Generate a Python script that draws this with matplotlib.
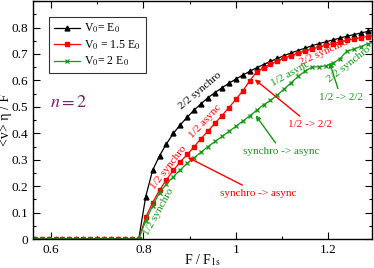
import numpy as np
import matplotlib
matplotlib.use("Agg")
import matplotlib.pyplot as plt
from matplotlib.ticker import MultipleLocator, FixedLocator, FixedFormatter

plt.rcParams['font.family'] = ['Liberation Serif', 'DejaVu Serif']
plt.rcParams['mathtext.fontset'] = 'stix'

# F / F1s sampling grid (0.565 ... 1.300, step 0.015)
F = np.round(0.565 + 0.015 * np.arange(50), 3)
n_zero = 16  # points before the depinning threshold

zeros = [0.0] * n_zero
v_e0 = zeros + [0.160, 0.260, 0.315, 0.360, 0.400, 0.432, 0.461, 0.488, 0.512, 0.535,
                0.554, 0.572, 0.589, 0.605, 0.620, 0.634, 0.648, 0.660, 0.672, 0.683,
                0.694, 0.704, 0.713, 0.722, 0.731, 0.739, 0.746, 0.753, 0.760, 0.767,
                0.773, 0.779, 0.785, 0.790]
v_15e0 = zeros + [0.082, 0.138, 0.185, 0.225, 0.260, 0.292, 0.320, 0.350, 0.380, 0.409,
                  0.438, 0.467, 0.497, 0.528, 0.560, 0.598, 0.632, 0.648, 0.661, 0.673,
                  0.684, 0.694, 0.703, 0.711, 0.719, 0.726, 0.733, 0.739, 0.745, 0.751,
                  0.756, 0.761, 0.766, 0.770]
v_2e0 = zeros + [0.069, 0.125, 0.176, 0.208, 0.236, 0.262, 0.287, 0.308, 0.329, 0.350,
                 0.369, 0.388, 0.407, 0.426, 0.446, 0.466, 0.487, 0.508, 0.524, 0.545,
                 0.568, 0.592, 0.615, 0.636, 0.650, 0.652, 0.655, 0.665, 0.682, 0.710,
                 0.718, 0.728, 0.738, 0.745]

black = 'black'
red = '#ff0000'
green = '#129a12'

fig = plt.figure(figsize=(3.74, 2.68), dpi=100)
ax = fig.add_axes([0.088, 0.108, 0.907, 0.888])

ax.plot(F, v_e0, color=black, lw=0.9, marker='^', ms=3.5, label='V$_0$= E$_0$')
ax.plot(F, v_15e0, color=red, lw=0.9, marker='s', ms=3, label='V$_0$ = 1.5 E$_0$')
ax.plot(F, v_2e0, color=green, lw=0.9, marker='x', ms=3, mew=0.9, label='V$_0$= 2 E$_0$')

ax.set_xlim(0.561, 1.295)
ax.set_ylim(0, 0.9)

ax.xaxis.set_major_locator(FixedLocator([0.6, 0.8, 1.0, 1.2]))
ax.xaxis.set_major_formatter(FixedFormatter(['0.6', '0.8', '1', '1.2']))
ax.xaxis.set_minor_locator(MultipleLocator(0.1))
ax.yaxis.set_major_locator(FixedLocator([0, 0.1, 0.2, 0.3, 0.4, 0.5, 0.6, 0.7, 0.8, 0.9]))
ax.yaxis.set_major_formatter(FixedFormatter(['0', '0.1', '0.2', '0.3', '0.4', '0.5',
                                             '0.6', '0.7', '0.8', '']))
ax.yaxis.set_minor_locator(MultipleLocator(0.05))
ax.tick_params(which='both', direction='in', top=True, right=True, labelsize=9.5)
ax.tick_params(which='major', length=5, width=0.8)
ax.tick_params(which='minor', length=2.5, width=0.8)
for s in ax.spines.values():
    s.set_linewidth(1.0)

ax.set_xlabel('F / F$_{\\mathrm{1s}}$', fontsize=10)
ax.set_ylabel('<v> η / F', fontsize=10)
ax.xaxis.set_label_coords(0.5, -0.055)
ax.yaxis.set_label_coords(-0.062, 0.5)

leg = ax.legend(loc='upper left', bbox_to_anchor=(0.047, 0.933), borderaxespad=0,
                fancybox=False, edgecolor='black', fontsize=8.5, handlelength=2.2,
                labelspacing=0.25, borderpad=0.4, handletextpad=0.4)
leg.get_frame().set_linewidth(0.8)

ax.text(0.639, 0.517, '$n = 2$', color='#7a1f5e', fontsize=13, ha='center', va='center')

# branch labels along the curves
fs = 8
ax.text(0.922, 0.562, '2/2 synchro', color=black, fontsize=fs, rotation=40, ha='center', va='center')
ax.text(0.933, 0.445, '1/2 async', color=red, fontsize=fs, rotation=47, ha='center', va='center')
ax.text(0.855, 0.272, '1/2 synchro', color=red, fontsize=fs, rotation=52, ha='center', va='center')
ax.text(0.834, 0.102, '1/2 synchro', color=green, fontsize=fs, rotation=61, ha='center', va='center')
ax.text(1.190, 0.706, '2/2 synchro', color=red, fontsize=fs, rotation=24, ha='center', va='center')
ax.text(1.117, 0.626, '1/2 async', color=green, fontsize=fs, rotation=29, ha='center', va='center')
ax.text(1.244, 0.660, '2/2 synchro', color=green, fontsize=fs, rotation=38, ha='center', va='center')

# transitions
arrow = dict(arrowstyle='-|>', lw=1.0, mutation_scale=7, shrinkA=1, shrinkB=0)
ax.annotate('1/2 -> 2/2', xy=(1.041, 0.604), xytext=(1.160, 0.434), color=red, fontsize=fs,
            ha='center', va='center', arrowprops=dict(arrow, color=red))
ax.annotate('synchro -> async', xy=(0.896, 0.309), xytext=(1.048, 0.174), color=red, fontsize=fs,
            ha='center', va='center', arrowprops=dict(arrow, color=red))
ax.annotate('synchro -> async', xy=(1.043, 0.468), xytext=(1.099, 0.332), color=green, fontsize=fs,
            ha='center', va='center', arrowprops=dict(arrow, color=green))
ax.annotate('1/2 -> 2/2', xy=(1.203, 0.668), xytext=(1.227, 0.536), color=green, fontsize=fs,
            ha='center', va='center', arrowprops=dict(arrow, color=green))

fig.savefig('out.png', dpi=100)
